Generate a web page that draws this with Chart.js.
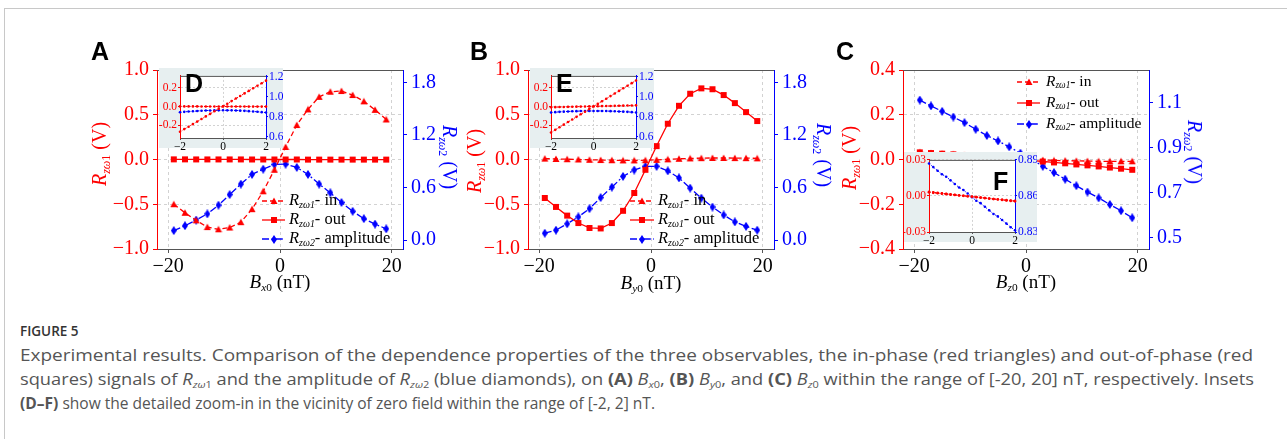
<!DOCTYPE html>
<html lang="en">
<head>
<meta charset="UTF-8">
<title>Figure 5</title>
<script src="https://cdn.jsdelivr.net/npm/chart.js"></script>
<style>
  html, body { margin: 0; padding: 0; background: #fff; }
  body { position: relative; width: 1287px; height: 439px; overflow: hidden; font-family: "Liberation Serif", serif; }
  .frame { position: absolute; left: 4px; top: 8px; width: 1400px; height: 500px; border: 1px solid #c8c8c8; }
  .abs { position: absolute; }
  .shade { position: absolute; background: #e7eff0; }
  .letter { position: absolute; font-family: "Liberation Sans", Arial, sans-serif; font-weight: bold; font-size: 25px; line-height: 1; color: #000; }
  .ttl { position: absolute; font-size: 20px; line-height: 1; white-space: nowrap; transform: translate(-50%, -50%); }
  .ttl.l { transform: translate(-50%, -50%) rotate(-90deg); color: #ff0000; }
  .ttl.r { transform: translate(-50%, -50%) rotate(90deg); color: #0000ff; }
  .ttl.x { color: #000; font-size: 19px; }
  .ttl sub, .cap sub { font-size: 0.6em; vertical-align: -0.35em; line-height: 0; }
  .cap-title { position: absolute; left: 20px; top: 320px; font-family: "Open Sans", sans-serif; font-weight: 600; font-size: 15px; color: #333; line-height: 20px; transform-origin: left center; transform: scaleX(0.9); }
  .cap { position: absolute; left: 20px; font-family: "Open Sans", sans-serif; font-size: 16px; color: #555; line-height: 20px; white-space: nowrap; display: inline-block; transform-origin: left center; }
</style>
</head>
<body>
<div class="frame"></div>

<canvas id="cA" class="abs" width="340" height="235" style="left:100px;top:54px"></canvas>
<canvas id="cB" class="abs" width="340" height="235" style="left:471px;top:54px"></canvas>
<canvas id="cC" class="abs" width="340" height="235" style="left:846px;top:54px"></canvas>

<div class="shade" style="left:159px;top:68px;width:124px;height:80px"></div>
<div class="shade" style="left:530px;top:68px;width:124px;height:80px"></div>
<div class="shade" style="left:904px;top:152px;width:133px;height:90px"></div>
<canvas id="iD" class="abs" width="124" height="84" style="left:159px;top:68px"></canvas>
<canvas id="iE" class="abs" width="124" height="84" style="left:530px;top:68px"></canvas>
<canvas id="iF" class="abs" width="133" height="94" style="left:904px;top:152px"></canvas>

<div class="letter" style="left:91px;top:39px">A</div>
<div class="letter" style="left:470px;top:39px">B</div>
<div class="letter" style="left:836px;top:39px">C</div>
<div class="letter" style="left:185px;top:71px">D</div>
<div class="letter" style="left:556px;top:71px">E</div>
<div class="letter" style="left:993px;top:169px">F</div>

<div class="ttl l" style="left:99px;top:154px"><i>R</i><sub><i>zω</i>1</sub> (V)</div>
<div class="ttl r" style="left:450px;top:157px"><i>R</i><sub><i>zω</i>2</sub> (V)</div>
<div class="ttl l" style="left:474px;top:161px"><i>R</i><sub><i>zω</i>1</sub> (V)</div>
<div class="ttl r" style="left:824px;top:155px"><i>R</i><sub><i>zω</i>2</sub> (V)</div>
<div class="ttl l" style="left:849px;top:158px"><i>R</i><sub><i>zω</i>1</sub> (V)</div>
<div class="ttl r" style="left:1195px;top:152px"><i>R</i><sub><i>zω</i>2</sub> (V)</div>
<div class="ttl x" style="left:280px;top:281px"><i>B</i><sub><i>x</i>0</sub> (nT)</div>
<div class="ttl x" style="left:651px;top:282px"><i>B</i><sub><i>y</i>0</sub> (nT)</div>
<div class="ttl x" style="left:1026px;top:281px"><i>B</i><sub><i>z</i>0</sub> (nT)</div>

<div class="cap-title">FIGURE 5</div>
<div class="cap" data-w="1233" style="top:345px">Experimental results. Comparison of the dependence properties of the three observables, the in-phase (red triangles) and out-of-phase (red</div>
<div class="cap" data-w="1234" style="top:369px">squares) signals of <i>R</i><sub><i>zω</i>1</sub> and the amplitude of <i>R</i><sub><i>zω</i>2</sub> (blue diamonds), on <b>(A)</b> <i>B</i><sub><i>x</i>0</sub>, <b>(B)</b> <i>B</i><sub><i>y</i>0</sub>, and <b>(C)</b> <i>B</i><sub><i>z</i>0</sub> within the range of [-20, 20] nT, respectively. Insets</div>
<div class="cap" data-w="635" style="top:393px"><b>(D–F)</b> show the detailed zoom-in in the vicinity of zero field within the range of [-2, 2] nT.</div>

<script>
// field values (nT) of the main panels
const fieldMain = [-19, -17, -15, -13, -11, -9, -7, -5, -3, -1, 1, 3, 5, 7, 9, 11, 13, 15, 17, 19];
// field values (nT) of the insets
const fieldInset = [-2, -1.8, -1.6, -1.4, -1.2, -1, -0.8, -0.6, -0.4, -0.2, 0, 0.2, 0.4, 0.6, 0.8, 1, 1.2, 1.4, 1.6, 1.8, 2];

// panel A, Bx0 sweep
const aIn  = [-0.50, -0.595, -0.68, -0.755, -0.78, -0.76, -0.70, -0.555, -0.355, -0.115, 0.14, 0.385, 0.56, 0.70, 0.757, 0.765, 0.72, 0.65, 0.555, 0.447];
const aOut = [0.002, 0.002, 0.001, 0.001, 0.001, 0.001, 0.001, 0.0, 0.0, 0.0, 0.0, 0.0, -0.001, -0.001, -0.001, -0.001, -0.001, -0.001, -0.001, -0.001];
const aAmp = [0.11, 0.165, 0.23, 0.30, 0.40, 0.52, 0.64, 0.75, 0.81, 0.863, 0.867, 0.83, 0.75, 0.64, 0.54, 0.43, 0.33, 0.246, 0.184, 0.13];

// panel B, By0 sweep
const bIn  = [0.01, 0.006, 0.003, 0.0, -0.003, -0.006, -0.008, -0.01, -0.01, -0.008, -0.004, 0.002, 0.008, 0.012, 0.015, 0.017, 0.017, 0.016, 0.015, 0.013];
const bOut = [-0.43, -0.53, -0.627, -0.71, -0.765, -0.77, -0.71, -0.573, -0.374, -0.115, 0.15, 0.40, 0.60, 0.735, 0.795, 0.785, 0.72, 0.63, 0.53, 0.43];
const bAmp = [0.08, 0.115, 0.187, 0.266, 0.36, 0.486, 0.605, 0.727, 0.80, 0.842, 0.842, 0.79, 0.71, 0.594, 0.48, 0.378, 0.288, 0.209, 0.158, 0.115];

// panel C, Bz0 sweep
const cIn  = [0.032, 0.029, 0.026, 0.023, 0.02, 0.017, 0.014, 0.011, 0.008, 0.004, 0.0, -0.002, -0.004, -0.005, -0.006, -0.007, -0.008, -0.008, -0.008, -0.008];
const cOut = [0.032, 0.029, 0.026, 0.023, 0.019, 0.015, 0.011, 0.007, 0.003, 0.0, -0.004, -0.009, -0.013, -0.017, -0.022, -0.026, -0.031, -0.036, -0.041, -0.046];
const cAmp = [1.110, 1.084, 1.06, 1.035, 1.01, 0.981, 0.953, 0.929, 0.903, 0.875, 0.849, 0.817, 0.789, 0.76, 0.731, 0.703, 0.677, 0.648, 0.62, 0.589];

// inset D
const dIn  = [-0.272, -0.244, -0.218, -0.19, -0.163, -0.135, -0.107, -0.08, -0.052, -0.025, 0.003, 0.03, 0.058, 0.086, 0.113, 0.141, 0.168, 0.196, 0.224, 0.251, 0.279];
const dOut = [0.001, 0.001, 0.001, 0.001, 0.001, 0.0, 0.0, 0.0, 0.0, 0.0, 0.0, 0.0, 0.0, 0.0, 0.0, 0.0, -0.001, -0.001, -0.001, -0.001, -0.001];
const dAmp = [0.847, 0.851, 0.854, 0.857, 0.86, 0.862, 0.864, 0.865, 0.866, 0.866, 0.867, 0.866, 0.866, 0.865, 0.863, 0.861, 0.858, 0.855, 0.852, 0.848, 0.844];

// inset E
const eIn  = [-0.008, -0.007, -0.006, -0.005, -0.004, -0.003, -0.002, -0.001, 0.0, 0.001, 0.002, 0.003, 0.004, 0.005, 0.006, 0.007, 0.008, 0.009, 0.01, 0.011, 0.012];
const eOut = [-0.28, -0.252, -0.224, -0.196, -0.168, -0.14, -0.112, -0.084, -0.056, -0.028, 0.0, 0.028, 0.056, 0.084, 0.112, 0.14, 0.168, 0.196, 0.224, 0.252, 0.28];
const eAmp = [0.845, 0.848, 0.851, 0.853, 0.855, 0.857, 0.858, 0.859, 0.86, 0.86, 0.86, 0.86, 0.86, 0.859, 0.858, 0.857, 0.855, 0.853, 0.851, 0.848, 0.845];

// inset F
const fIn  = [0.003, 0.0026, 0.0022, 0.0019, 0.0015, 0.0011, 0.0008, 0.0004, 0.0001, -0.0003, -0.0007, -0.001, -0.0014, -0.0018, -0.0022, -0.0026, -0.0029, -0.0033, -0.0037, -0.0041, -0.0045];
const fOut = [0.0035, 0.003, 0.0026, 0.0022, 0.0018, 0.0014, 0.001, 0.0006, 0.0002, -0.0002, -0.0005, -0.0009, -0.0013, -0.0017, -0.0021, -0.0025, -0.0028, -0.0032, -0.0035, -0.0038, -0.004];
const fAmp = [0.887, 0.884, 0.881, 0.878, 0.876, 0.873, 0.87, 0.867, 0.865, 0.862, 0.859, 0.856, 0.854, 0.851, 0.848, 0.845, 0.843, 0.84, 0.837, 0.834, 0.8315];

// tick labels
const ticksX = [-20, 0, 20];
const ticksLeftAB = [-1.0, -0.5, 0.0, 0.5, 1.0];
const ticksRightAB = [0.0, 0.6, 1.2, 1.8];
const ticksLeftC = [-0.4, -0.2, 0.0, 0.2, 0.4];
const ticksRightC = [0.5, 0.7, 0.9, 1.1];
const ticksInsetX = [-2, 0, 2];
const ticksInsetLeftDE = [-0.2, 0.0, 0.2];
const ticksInsetRightDE = [0.6, 0.8, 1.0, 1.2];
const ticksInsetLeftF = [-0.03, 0.00, 0.03];
const ticksInsetRightF = [0.83, 0.86, 0.89];

const RED = '#ff0000', BLUE = '#0000ff', FRAME = '#555555', GRID = '#d2d2d2';
const SERIF = '"Liberation Serif", "Times New Roman", serif';
const MINUS = '\u2212';

function fmt(v, dec, minus) {
    const s = Math.abs(v).toFixed(dec);
    return (v < -1e-9 ? minus : '') + s;
}

function marker(kind, color) {
    const c = document.createElement('canvas');
    const w = kind === 'diamond' ? 6 : 8, h = kind === 'diamond' ? 9 : 8;
    c.width = w; c.height = h;
    const g = c.getContext('2d');
    g.fillStyle = color;
    g.beginPath();
    if (kind === 'triangle') { g.moveTo(w / 2, 0.5); g.lineTo(w - 0.5, h - 1); g.lineTo(0.5, h - 1); }
    else if (kind === 'square') { g.rect(1, 1, 6, 6); }
    else { g.moveTo(w / 2, 0); g.lineTo(w, h / 2); g.lineTo(w / 2, h); g.lineTo(0, h / 2); }
    g.closePath();
    g.fill();
    return c;
}
const mTri = marker('triangle', RED), mSq = marker('square', RED), mDia = marker('diamond', BLUE);

function pts(xs, ys) { return xs.map((x, i) => ({ x: x, y: ys[i] })); }

function axisY(o) {
    return {
        type: 'linear', position: o.pos, min: o.min, max: o.max,
        afterBuildTicks: s => { s.ticks = o.ticks.map(v => ({ value: v })); },
        afterFit: s => { s.width = o.width; },
        ticks: { color: o.color, padding: o.pad, font: { family: SERIF, size: o.size }, callback: v => fmt(v, o.dec, o.minus) },
        grid: { drawOnChartArea: !!o.grid, color: GRID, lineWidth: 1, tickColor: o.color, tickLength: o.tick, tickBorderDash: [] },
        border: { color: o.color, width: 1, dash: o.dash }
    };
}

function axisX(o) {
    return {
        type: 'linear', position: 'bottom', min: o.min, max: o.max,
        afterBuildTicks: s => { s.ticks = o.ticks.map(v => ({ value: v })); },
        afterFit: s => { s.height = o.height; },
        ticks: { color: '#000', padding: o.pad, maxRotation: 0, font: { family: SERIF, size: o.size }, callback: v => fmt(v, 0, MINUS) },
        grid: { drawOnChartArea: true, color: GRID, lineWidth: 1, tickColor: FRAME, tickLength: o.tick, tickBorderDash: [] },
        border: { color: FRAME, width: 1, dash: o.dash }
    };
}

// top edge of the axes box, and white plot face for the insets
const boxPlugin = {
    id: 'box',
    beforeDraw(chart, args, opts) {
        if (opts.white) {
            const a = chart.chartArea;
            chart.ctx.save();
            chart.ctx.fillStyle = '#fff';
            chart.ctx.fillRect(a.left, a.top, a.right - a.left, a.bottom - a.top);
            chart.ctx.restore();
        }
    },
    afterDraw(chart) {
        const a = chart.chartArea, ctx = chart.ctx;
        ctx.save();
        ctx.strokeStyle = FRAME;
        ctx.lineWidth = 1;
        ctx.beginPath();
        ctx.moveTo(a.left, a.top + 0.5);
        ctx.lineTo(a.right, a.top + 0.5);
        ctx.stroke();
        ctx.restore();
    }
};

// matplotlib-like legend: line with one marker, then label with subscript
const legendParts = [
    [{ t: 'R', i: true }, { t: 'zω1', i: true, sub: true }, { t: '- in' }],
    [{ t: 'R', i: true }, { t: 'zω1', i: true, sub: true }, { t: '- out' }],
    [{ t: 'R', i: true }, { t: 'zω2', i: true, sub: true }, { t: '- amplitude' }]
];
const legendPlugin = {
    id: 'richLegend',
    afterDatasetsDraw(chart, args, opts) {
        if (!opts || opts.x === undefined) return;
        const ctx = chart.ctx;
        legendParts.forEach((parts, i) => {
            const ds = chart.data.datasets[i];
            const y = opts.y + i * opts.dy;
            ctx.save();
            ctx.strokeStyle = ds.borderColor;
            ctx.lineWidth = ds.borderWidth;
            ctx.setLineDash(ds.borderDash || []);
            ctx.beginPath();
            ctx.moveTo(opts.x, y);
            ctx.lineTo(opts.x + opts.len, y);
            ctx.stroke();
            const m = ds.pointStyle;
            ctx.drawImage(m, Math.round(opts.x + opts.len / 2 - m.width / 2), Math.round(y - m.height / 2));
            let x = opts.x + opts.len + opts.gap;
            ctx.fillStyle = '#000';
            ctx.textBaseline = 'middle';
            parts.forEach(p => {
                ctx.font = (p.i ? 'italic ' : '') + (p.sub ? opts.size * 0.6 : opts.size) + 'px ' + SERIF;
                ctx.fillText(p.t, x, y + (p.sub ? 4 : 0));
                x += ctx.measureText(p.t).width;
            });
            ctx.restore();
        });
    }
};

function mainChart(id, d, yl, yr, legend) {
    new Chart(document.getElementById(id), {
        type: 'line',
        data: {
            datasets: [
                { data: pts(fieldMain, d[0]), yAxisID: 'yl', borderColor: RED, borderWidth: 1.3, borderDash: [5, 3], pointStyle: mTri, pointRadius: 4 },
                { data: pts(fieldMain, d[1]), yAxisID: 'yl', borderColor: RED, borderWidth: 1.3, borderDash: [], pointStyle: mSq, pointRadius: 4 },
                { data: pts(fieldMain, d[2]), yAxisID: 'yr', borderColor: BLUE, borderWidth: 1.3, borderDash: [7, 2.5, 1.8, 2.5], pointStyle: mDia, pointRadius: 4 }
            ]
        },
        options: {
            responsive: false, animation: false, parsing: true,
            layout: { autoPadding: false, padding: { top: 10, left: 0, right: 0, bottom: 0 } },
            elements: { line: { tension: 0, fill: false } },
            scales: {
                x: axisX({ min: -22, max: 22, ticks: ticksX, height: 40, pad: 2, tick: 4, size: 20, dash: [3, 3] }),
                yl: axisY({ pos: 'left', min: yl.min, max: yl.max, ticks: yl.ticks, width: 57, color: RED, pad: 4, tick: 4, size: 20, dec: 1, minus: MINUS, grid: true, dash: [3, 3] }),
                yr: axisY({ pos: 'right', min: yr.min, max: yr.max, ticks: yr.ticks, width: 37, color: BLUE, pad: 4, tick: 4, size: 20, dec: 1, minus: MINUS, grid: false })
            },
            plugins: { legend: { display: false }, tooltip: { enabled: false }, box: {}, richLegend: legend }
        },
        plugins: [boxPlugin, legendPlugin]
    });
}

function insetChart(id, d, yl, yr, lay) {
    const ds = (ys, axis, color) => ({ data: pts(fieldInset, ys), yAxisID: axis, borderColor: color, backgroundColor: color, borderWidth: 1, borderDash: [1.5, 1.5], pointStyle: 'circle', pointRadius: 1.3, pointBorderWidth: 0, clip: 3 });
    new Chart(document.getElementById(id), {
        type: 'line',
        data: { datasets: [ds(d[0], 'yl', RED), ds(d[1], 'yl', RED), ds(d[2], 'yr', BLUE)] },
        options: {
            responsive: false, animation: false,
            layout: { autoPadding: false, padding: { top: 4, left: 0, right: 0, bottom: 0 } },
            elements: { line: { tension: 0, fill: false } },
            scales: {
                x: axisX({ min: -2, max: 2, ticks: ticksInsetX, height: 14, pad: 0, tick: 2, size: 11.5, dash: [2, 2] }),
                yl: axisY({ pos: 'left', min: yl.min, max: yl.max, ticks: yl.ticks, width: lay.l, color: RED, pad: 1, tick: 2, size: 11.5, dec: yl.dec, minus: '-', grid: true, dash: [2, 2] }),
                yr: axisY({ pos: 'right', min: yr.min, max: yr.max, ticks: yr.ticks, width: lay.r, color: BLUE, pad: 1, tick: 2, size: 11.5, dec: yr.dec, minus: '-', grid: false })
            },
            plugins: { legend: { display: false }, tooltip: { enabled: false }, box: { white: true } }
        },
        plugins: [boxPlugin]
    });
}

mainChart('cA', [aIn, aOut, aAmp], { min: -1, max: 1, ticks: ticksLeftAB }, { min: -0.1, max: 1.94, ticks: ticksRightAB },
    { x: 162, y: 147, dy: 19, len: 23, gap: 4, size: 16.5 });
mainChart('cB', [bIn, bOut, bAmp], { min: -1, max: 1, ticks: ticksLeftAB }, { min: -0.1, max: 1.94, ticks: ticksRightAB },
    { x: 159, y: 147, dy: 19, len: 24, gap: 4, size: 16.5 });
mainChart('cC', [cIn, cOut, cAmp], { min: -0.4, max: 0.4, ticks: ticksLeftC }, { min: 0.451, max: 1.243, ticks: ticksRightC },
    { x: 171, y: 28, dy: 21, len: 23, gap: 6, size: 15.5 });

insetChart('iD', [dIn, dOut, dAmp], { min: -0.34, max: 0.33, ticks: ticksInsetLeftDE, dec: 1 }, { min: 0.59, max: 1.21, ticks: ticksInsetRightDE, dec: 1 }, { l: 21, r: 17 });
insetChart('iE', [eIn, eOut, eAmp], { min: -0.34, max: 0.33, ticks: ticksInsetLeftDE, dec: 1 }, { min: 0.59, max: 1.21, ticks: ticksInsetRightDE, dec: 1 }, { l: 21, r: 18 });
insetChart('iF', [fIn, fOut, fAmp], { min: -0.03, max: 0.03, ticks: ticksInsetLeftF, dec: 2 }, { min: 0.83, max: 0.89, ticks: ticksInsetRightF, dec: 2 }, { l: 25, r: 22 });

// squeeze caption lines to the measured line lengths of the figure (its font is a narrow one)
document.querySelectorAll('.cap[data-w]').forEach(el => {
    const target = +el.dataset.w;
    const nat = el.getBoundingClientRect().width;
    el.style.transform = 'scaleX(' + (target / nat).toFixed(4) + ')';
});
</script>
</body>
</html>
